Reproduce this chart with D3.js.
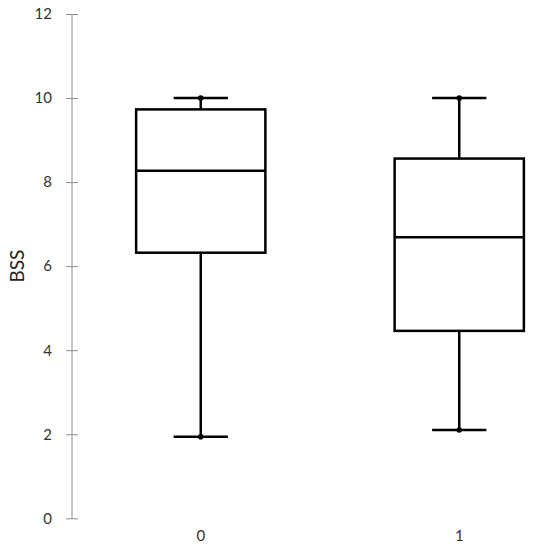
<!DOCTYPE html>
<html><head><meta charset="utf-8">
<script src="https://cdn.jsdelivr.net/npm/d3@7"></script>
<style>body{margin:0;background:#fff}</style>
</head><body>
<svg id="c" width="543" height="550"></svg>
<script>
const categories = ["0", "1"];
const mins = [1.94, 2.10];
const q1s = [6.32, 4.46];
const medians = [8.27, 6.69];
const q3s = [9.73, 8.56];
const maxs = [10, 10];
const yTicks = [0, 2, 4, 6, 8, 10, 12];

const svg = d3.select("#c");
const y = d3.scaleLinear().domain([0, 12]).range([518.3, 14]);
const x = d3.scaleBand().domain(categories).range([71.5, 588.5]).paddingInner(0.5).paddingOuter(0.25);
const font = "Lato, 'Open Sans', sans-serif";

// y axis
const ax = svg.append("g").attr("transform", "translate(72,0)")
  .call(d3.axisLeft(y).tickValues(yTicks).tickSize(6).tickPadding(14));
ax.select(".domain").attr("stroke", "#8c8c8c").attr("d", `M0,${y(0)}V${y(12)}`);
ax.selectAll(".tick line").attr("stroke", "#8c8c8c").attr("x1", -6).attr("x2", 6);
ax.selectAll(".tick text").attr("fill", "#333").style("font-family", font).style("font-size", "15px");

// x labels
svg.append("g").selectAll("text").data(categories).join("text")
  .attr("x", d => x(d) + x.bandwidth() / 2).attr("y", 541)
  .attr("text-anchor", "middle").attr("fill", "#333")
  .style("font-family", font).style("font-size", "15px")
  .text(d => d);

// y title
svg.append("text").attr("transform", `translate(24,${y(6)}) rotate(-90)`)
  .attr("text-anchor", "middle").attr("fill", "#222")
  .style("font-family", font).style("font-size", "19px").text("BSS");

const data = categories.map((c, i) => ({c, min: mins[i], q1: q1s[i], med: medians[i], q3: q3s[i], max: maxs[i]}));
const g = svg.append("g").attr("stroke", "#000").attr("stroke-width", 2.5).attr("fill", "none");
data.forEach(d => {
  const x0 = x(d.c), bw = x.bandwidth(), cx = x0 + bw / 2, cw = bw * 0.21;
  g.append("line").attr("x1", cx).attr("x2", cx).attr("y1", y(d.max)).attr("y2", y(d.q3));
  g.append("line").attr("x1", cx).attr("x2", cx).attr("y1", y(d.q1)).attr("y2", y(d.min));
  g.append("line").attr("x1", cx - cw).attr("x2", cx + cw).attr("y1", y(d.max)).attr("y2", y(d.max));
  g.append("line").attr("x1", cx - cw).attr("x2", cx + cw).attr("y1", y(d.min)).attr("y2", y(d.min));
  g.append("rect").attr("x", x0).attr("width", bw).attr("y", y(d.q3)).attr("height", y(d.q1) - y(d.q3));
  g.append("line").attr("x1", x0).attr("x2", x0 + bw).attr("y1", y(d.med)).attr("y2", y(d.med));
  svg.append("circle").attr("cx", cx).attr("cy", y(d.max)).attr("r", 2.8).attr("fill", "#000");
  svg.append("circle").attr("cx", cx).attr("cy", y(d.min)).attr("r", 2.8).attr("fill", "#000");
});
</script>
</body></html>
